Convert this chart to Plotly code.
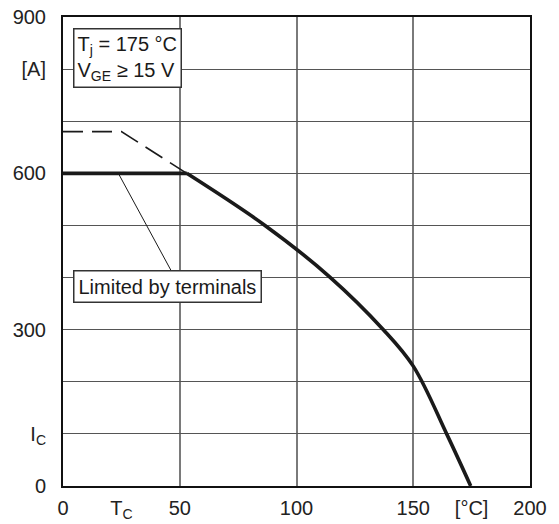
import plotly.graph_objects as go

# Data
T_flat = [0, 53]
I_flat = [600, 600]
T_curve = [53, 86.5, 114.3, 137.2, 150, 164.3, 174.6]
I_curve = [600, 500, 401, 300, 230, 100, 0]
T_dash = [0, 25, 53]
I_dash = [680, 680, 600]

y_tickvals = [0, 100, 200, 300, 400, 500, 600, 700, 800, 900]
y_ticktext = ["0", "I<sub>C</sub>", "", "300", "", "", "600", "", "[A]", "900"]
x_tickvals = [0, 25, 50, 100, 150, 175, 200]
x_ticktext = ["0", "T<sub>C</sub>", "50", "100", "150", "[°C]", "200"]
x_gridvals = [50, 100, 150]

FONT = "Liberation Sans, Arial, sans-serif"
INK = "#1a1a1a"

fig = go.Figure()
fig.add_trace(go.Scatter(x=T_dash, y=I_dash, mode="lines",
                         line=dict(color=INK, width=1.6, dash="20px,9px"),
                         hoverinfo="skip", showlegend=False))
fig.add_trace(go.Scatter(x=T_flat, y=I_flat, mode="lines",
                         line=dict(color=INK, width=3.6),
                         hoverinfo="skip", showlegend=False))
fig.add_trace(go.Scatter(x=T_curve, y=I_curve, mode="lines",
                         line=dict(color=INK, width=3.6, shape="spline", smoothing=1.0),
                         hoverinfo="skip", showlegend=False))

# pointer line for the annotation
fig.add_shape(type="line", x0=23.7, y0=600, x1=46.7, y1=410, xref="x", yref="y",
              line=dict(color=INK, width=1))

fig.add_annotation(x=4.15, y=879, xref="x", yref="y", xanchor="left", yanchor="top",
                   text="T<sub>j</sub> = 175 °C<br>V<sub>GE</sub> ≥ 15 V",
                   showarrow=False, align="left",
                   font=dict(family=FONT, size=20, color=INK),
                   bordercolor="#333333", borderwidth=1.5, borderpad=3, bgcolor="white")
fig.add_annotation(x=4.15, y=415, xref="x", yref="y", xanchor="left", yanchor="top",
                   text="Limited by terminals",
                   showarrow=False, align="left",
                   font=dict(family=FONT, size=20, color=INK),
                   bordercolor="#333333", borderwidth=1.5, borderpad=4, bgcolor="white")

fig.update_layout(
    width=559, height=524,
    margin=dict(l=63, r=29, t=17, b=38),
    paper_bgcolor="white", plot_bgcolor="white",
    font=dict(family=FONT, size=20, color="#222222"),
    showlegend=False,
)
fig.update_xaxes(range=[0, 200], tickmode="array", tickvals=x_tickvals, ticktext=x_ticktext,
                 showgrid=False, zeroline=False, ticks="", ticklabelstandoff=3,
                 automargin=False,
                 showline=True, linecolor="#111111", linewidth=2, mirror=True,
                 minor=dict(tickmode="array", tickvals=x_gridvals, showgrid=True,
                            gridcolor="#7a7a7a", gridwidth=1.5, ticks=""))
fig.update_yaxes(range=[0, 900], tickmode="array", tickvals=y_tickvals, ticktext=y_ticktext,
                 showgrid=True, gridcolor="#555555", gridwidth=1, zeroline=False, ticks="",
                 ticklabelstandoff=11, automargin=False,
                 showline=True, linecolor="#111111", linewidth=2, mirror=True)

fig.write_html("out.html", config={"displayModeBar": False},
               post_script="document.body.style.margin='0';document.body.style.overflow='hidden';")
